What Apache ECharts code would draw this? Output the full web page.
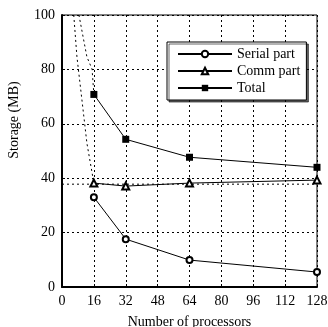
<!DOCTYPE html>
<html>
<head>
<meta charset="utf-8">
<script src="https://cdn.jsdelivr.net/npm/echarts@6/dist/echarts.min.js"></script>
<style>
  html, body { margin: 0; padding: 0; background: #fff; }
  #chart { width: 328px; height: 327px; }
</style>
</head>
<body>
<div id="chart"></div>
<script>
// measured values
const procs = [16, 32, 64, 128]
const serialPart = [33, 17.6, 9.9, 5.5]
const commPart = [38.2, 37.1, 38.2, 39.3]
const total = [70.8, 54.3, 47.7, 44.0]
// dashed model curves near the left edge
const modelA = [[5.9, 100], [7.5, 84.6], [10, 68.8], [12.5, 52.9], [15.9, 38.6]]
const modelB = [[8.5, 100], [12.5, 84.6], [15.1, 80.1], [16, 70.8]]
const commLevel = [[0, 37.8], [128, 37.8]]

const font = 'Liberation Serif'
const pairs = (xs, ys) => xs.map((x, i) => [x, ys[i]])

const dashed = data => ({
    type: 'line',
    data: data,
    symbol: 'none',
    silent: true,
    lineStyle: { color: '#000', width: 1, type: [2, 3] },
    z: 1,
})

const chart = echarts.init(document.getElementById('chart'))
chart.setOption({
    animation: false,
    backgroundColor: '#fff',
    textStyle: { fontFamily: font, color: '#000' },
    grid: {
        left: 62, right: 11, top: 15, bottom: 40,
        outerBoundsMode: 'none',
        show: true, borderColor: '#000', borderWidth: 1,
    },
    legend: {
        orient: 'vertical',
        left: 167, top: 42,
        data: ['Serial part', 'Comm part', 'Total'],
        itemWidth: 54, itemHeight: 8, itemGap: 3,
        padding: [5, 6, 5, 10],
        backgroundColor: '#fff',
        borderColor: '#000', borderWidth: 1,
        shadowColor: 'rgba(0,0,0,0.6)', shadowOffsetX: 2, shadowOffsetY: 2, shadowBlur: 0,
        textStyle: { fontFamily: font, fontSize: 14, color: '#000' },
    },
    xAxis: {
        type: 'value', min: 0, max: 128, interval: 16,
        name: 'Number of processors', nameLocation: 'middle', nameGap: 28,
        nameTextStyle: { fontFamily: font, fontSize: 14, color: '#000' },
        axisLine: { lineStyle: { color: '#000', width: 2 } },
        axisTick: { inside: true, length: 3, lineStyle: { color: '#000' } },
        axisLabel: { fontFamily: font, fontSize: 14, color: '#000', margin: 7 },
        splitLine: { show: true, lineStyle: { color: '#000', width: 1, type: [2, 3] } },
    },
    yAxis: {
        type: 'value', min: 0, max: 100, interval: 20,
        axisLine: { show: true, lineStyle: { color: '#000', width: 2 } },
        axisTick: { show: true, inside: true, length: 3, lineStyle: { color: '#000' } },
        axisLabel: { fontFamily: font, fontSize: 14, color: '#000', margin: 7 },
        splitLine: { show: true, lineStyle: { color: '#000', width: 1, type: [2, 3] } },
    },
    graphic: [{
        type: 'text',
        x: 7, y: 120,
        rotation: Math.PI / 2,
        style: {
            text: 'Storage (MB)', fill: '#000',
            font: '14px "Liberation Serif"',
            textAlign: 'center', textVerticalAlign: 'top',
        },
    }],
    series: [
        dashed(modelA),
        dashed(modelB),
        dashed(commLevel),
        {
            name: 'Serial part', type: 'line', data: pairs(procs, serialPart),
            symbol: 'emptyCircle', symbolSize: 6,
            itemStyle: { color: '#000', borderWidth: 1 },
            lineStyle: { color: '#000', width: 1 }, z: 3,
        },
        {
            name: 'Comm part', type: 'line', data: pairs(procs, commPart),
            symbol: 'emptyTriangle', symbolSize: 7,
            itemStyle: { color: '#000', borderWidth: 1 },
            lineStyle: { color: '#000', width: 1 }, z: 3,
        },
        {
            name: 'Total', type: 'line', data: pairs(procs, total),
            symbol: 'rect', symbolSize: 7,
            itemStyle: { color: '#000' },
            lineStyle: { color: '#000', width: 1 }, z: 3,
        },
    ],
})
</script>
</body>
</html>
